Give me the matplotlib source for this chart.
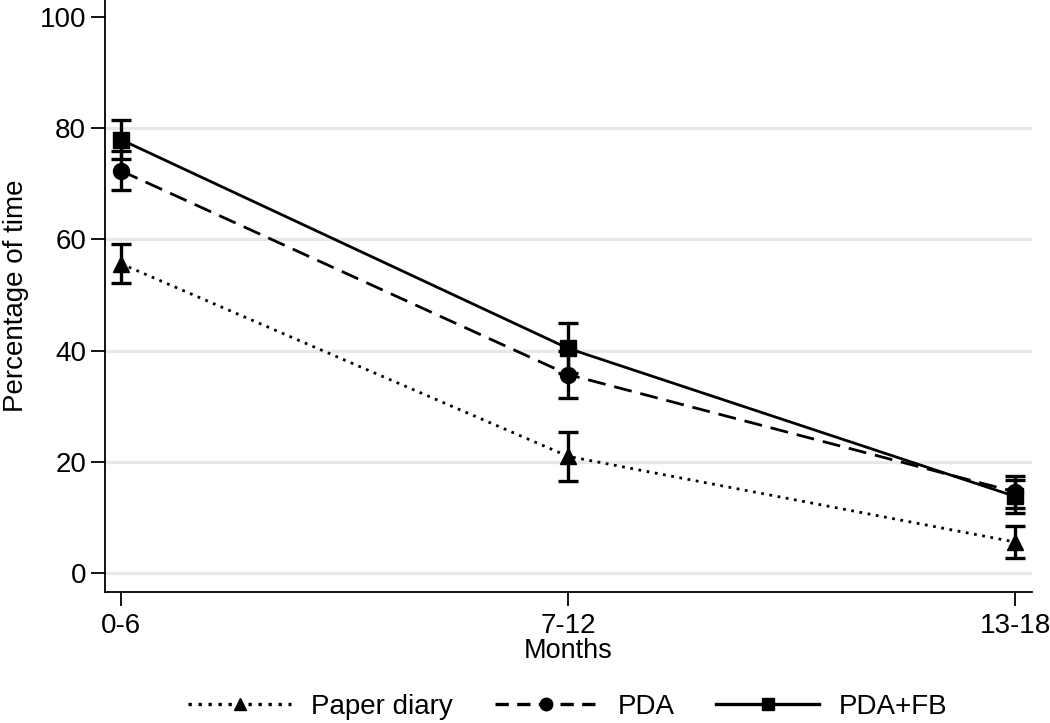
import matplotlib
matplotlib.use('Agg')
import matplotlib.pyplot as plt
from matplotlib.lines import Line2D

plt.rcParams['font.family'] = ['Liberation Sans', 'DejaVu Sans']

# данные
months = ['0-6', '7-12', '13-18']
paper = [55.6, 21.0, 5.6]
paper_err = [3.5, 4.4, 2.8]
pda = [72.3, 35.7, 14.6]
pda_err = [3.5, 4.3, 2.9]
pdafb = [77.9, 40.4, 13.8]
pdafb_err = [3.5, 4.5, 3.0]

x = list(range(len(months)))

dotted = (0, (1, 2))
dashed = (0, (6.5, 3.2))

fig = plt.figure(figsize=(10.5, 7.23), dpi=100)
ax = fig.add_axes([0.1, 0.181, 0.883, 0.819])

for yv in [0, 20, 40, 60, 80]:
    ax.axhline(yv, color='#e8e8e8', lw=2.4, zorder=0)

common = dict(color='black', ecolor='black', elinewidth=2.4, capsize=7.5, capthick=2.4,
              lw=2.0, markersize=11.5)
ax.errorbar(x, paper, yerr=paper_err, fmt='^', ls=dotted, **common)
ax.errorbar(x, pda, yerr=pda_err, fmt='o', ls=dashed, **common)
ax.errorbar(x, pdafb, yerr=pdafb_err, fmt='s', ls='-', **common)

ax.set_xlim(-0.036, 2.038)
ax.set_ylim(-3.4, 103)
ax.set_xticks(x)
ax.set_xticklabels(months)
ax.set_yticks([0, 20, 40, 60, 80, 100])
ax.tick_params(axis='both', labelsize=20, length=10, width=1.3, direction='out')
ax.tick_params(axis='x', pad=5)
ax.set_xlabel('Months', fontsize=19.5, labelpad=-1)
ax.set_ylabel('Percentage of time', fontsize=20, labelpad=8)
for s in ['top', 'right']:
    ax.spines[s].set_visible(False)
for s in ['left', 'bottom']:
    ax.spines[s].set_linewidth(1.3)

# легенда без планок ошибок
handles = [Line2D([], [], color='black', ls=dotted, lw=2.4, marker='^', markersize=9),
           Line2D([], [], color='black', ls=(0, (4, 2.5)), lw=2.4, marker='o', markersize=9),
           Line2D([], [], color='black', ls='-', lw=2.4, marker='s', markersize=9)]
labels = ['Paper diary', 'PDA', 'PDA+FB']
fig.legend(handles, labels, loc='center', bbox_to_anchor=(568 / 1050, 1 - 707 / 723), ncol=3,
           frameon=False, fontsize=20, handlelength=3.7, columnspacing=1.5,
           handletextpad=0.72, borderpad=0)

plt.savefig('out.png', dpi=100)
